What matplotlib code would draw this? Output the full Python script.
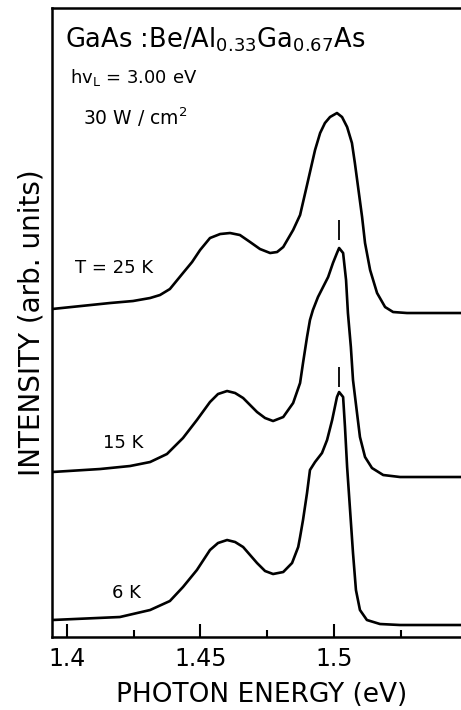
import numpy as np
import matplotlib
matplotlib.use('Agg')
import matplotlib.pyplot as plt

# photon energy (eV) / intensity (arb. units)
e_25K = [1.3945, 1.4162, 1.4248, 1.4312, 1.4349, 1.4386, 1.4435, 1.4469, 1.4499, 1.4536,
         1.4574, 1.4611, 1.4648, 1.4686, 1.4723, 1.4761, 1.4787, 1.4810, 1.4847, 1.4873,
         1.4899, 1.4929, 1.4948, 1.4966, 1.4985, 1.5011, 1.5030, 1.5049, 1.5067, 1.5078,
         1.5090, 1.5105, 1.5116, 1.5135, 1.5161, 1.5191, 1.5221, 1.5273, 1.5475]
i_25K = [32.8, 33.4, 33.6, 33.9, 34.2, 34.8, 36.4, 37.5, 38.7, 39.9,
         40.3, 40.4, 40.2, 39.5, 38.8, 38.4, 38.5, 39.0, 40.7, 42.2,
         45.2, 48.7, 50.4, 51.4, 52.0, 52.4, 52.0, 51.0, 49.4, 47.4,
         45.0, 42.0, 39.4, 36.7, 34.4, 33.0, 32.5, 32.4, 32.4]

e_15K = [1.3945, 1.4125, 1.4237, 1.4312, 1.4375, 1.4435, 1.4487, 1.4536, 1.4566, 1.4600,
         1.4630, 1.4660, 1.4712, 1.4742, 1.4772, 1.4810, 1.4847, 1.4873, 1.4884, 1.4899,
         1.4910, 1.4921, 1.4940, 1.4959, 1.4978, 1.4996, 1.5011, 1.5019, 1.5034, 1.5045,
         1.5052, 1.5063, 1.5071, 1.5086, 1.5097, 1.5116, 1.5142, 1.5184, 1.5247, 1.5475]
i_15K = [16.5, 16.8, 17.1, 17.5, 18.3, 19.9, 21.7, 23.5, 24.3, 24.6,
         24.4, 23.9, 22.5, 21.9, 21.6, 22.0, 23.4, 25.4, 27.4, 30.0,
         31.7, 32.7, 34.0, 35.0, 36.0, 37.4, 38.4, 38.9, 38.4, 35.7,
         32.4, 29.0, 25.7, 22.4, 20.0, 18.0, 16.9, 16.2, 16.0, 16.0]

e_6K = [1.3945, 1.4199, 1.4312, 1.4386, 1.4435, 1.4487, 1.4536, 1.4566, 1.4600, 1.4630,
        1.4660, 1.4712, 1.4742, 1.4772, 1.4810, 1.4843, 1.4866, 1.4873, 1.4884, 1.4899,
        1.4910, 1.4929, 1.4955, 1.4974, 1.4993, 1.5011, 1.5019, 1.5034, 1.5041, 1.5049,
        1.5060, 1.5071, 1.5082, 1.5097, 1.5123, 1.5172, 1.5247, 1.5475]
i_6K = [1.7, 2.0, 2.7, 3.6, 5.0, 6.7, 8.7, 9.4, 9.7, 9.5,
        9.0, 7.4, 6.6, 6.3, 6.5, 7.4, 9.0, 10.0, 11.7, 14.4,
        16.7, 17.5, 18.4, 19.7, 21.7, 24.0, 24.5, 24.0, 21.0, 17.0,
        12.7, 8.4, 4.7, 2.7, 1.7, 1.3, 1.2, 1.2]

# small peak markers above the 15 K and 6 K curves
mark_e = [1.5018, 1.5018]
mark_lo = [39.7, 25.0]
mark_hi = [41.7, 27.0]

major_ticks = [1.40, 1.45, 1.50]
major_labels = ['1.4', '1.45', '1.5']
minor_ticks = [1.425, 1.475, 1.525]

plt.rcParams['font.family'] = ['DejaVu Sans']

fig = plt.figure(figsize=(4.61, 7.10), dpi=100)
ax = fig.add_axes([0.1128, 0.1028, 0.8872, 0.8859])

for e, i in [(e_25K, i_25K), (e_15K, i_15K), (e_6K, i_6K)]:
    ax.plot(e, i, color='black', lw=1.9, solid_joinstyle='round', solid_capstyle='round')

ax.vlines(mark_e, mark_lo, mark_hi, color='black', lw=1.3)

ax.set_xlim(1.3945, 1.5475)
ax.set_ylim(0, 62.9)

ax.set_xticks(major_ticks)
ax.set_xticklabels(major_labels, fontsize=17)
ax.set_xticks(minor_ticks, minor=True)
ax.tick_params(axis='x', which='major', direction='in', length=9.5, width=1.5, pad=7)
ax.tick_params(axis='x', which='minor', direction='in', length=5, width=1.5)
ax.set_yticks([])

for s in ['left', 'bottom', 'top']:
    ax.spines[s].set_linewidth(1.8)
ax.spines['right'].set_visible(False)

ax.set_xlabel('PHOTON ENERGY (eV)', fontsize=19, labelpad=8)
ax.xaxis.label.set_x(0.512)
ax.set_ylabel('INTENSITY (arb. units)', fontsize=20, labelpad=5)

ax.text(0.032, 0.949, r'GaAs :Be/Al$_{0.33}$Ga$_{0.67}$As', transform=ax.transAxes,
        fontsize=18.5, va='center', ha='left')
ax.text(0.044, 0.889, r'hv$_{\mathregular{L}}$ = 3.00 eV', transform=ax.transAxes,
        fontsize=13, va='center', ha='left')
ax.text(0.076, 0.827, r'30 W / cm$^{\mathregular{2}}$', transform=ax.transAxes,
        fontsize=13.5, va='center', ha='left')
ax.text(0.056, 0.587, 'T = 25 K', transform=ax.transAxes, fontsize=13, va='center', ha='left')
ax.text(0.125, 0.308, '15 K', transform=ax.transAxes, fontsize=13, va='center', ha='left')
ax.text(0.147, 0.070, '6 K', transform=ax.transAxes, fontsize=13, va='center', ha='left')

fig.savefig('out.png', dpi=100)
